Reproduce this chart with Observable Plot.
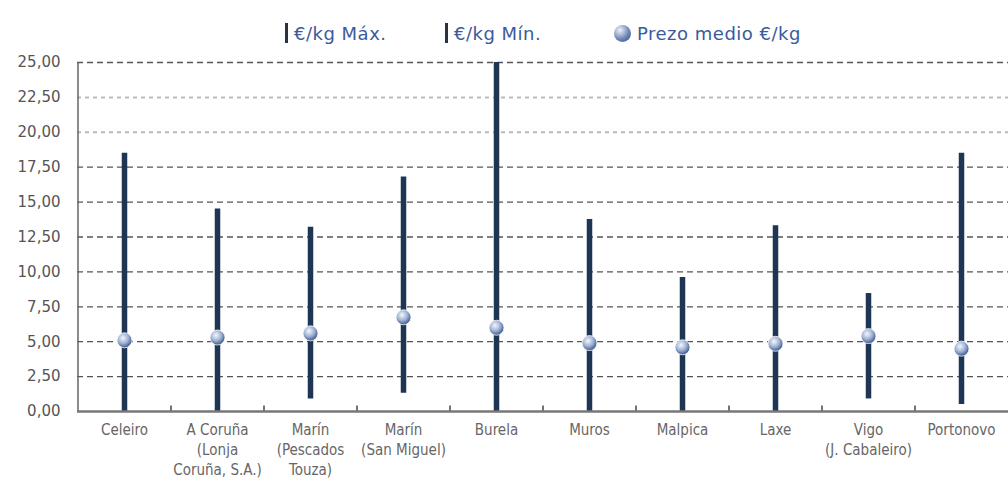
<!DOCTYPE html>
<html><head><meta charset="utf-8">
<script src="https://cdn.jsdelivr.net/npm/d3@7"></script>
<script src="https://cdn.jsdelivr.net/npm/@observablehq/plot@0.6"></script>
<style>
body{margin:0;background:#fff;font-family:"DejaVu Sans",Arial,sans-serif;}
#legend{height:48px;position:relative;font-size:18px;color:#3a5a9c;letter-spacing:0.5px;}
#legend .it{position:absolute;top:22px;display:flex;align-items:center;gap:6px;height:22px;}
#legend .bar{width:3px;height:20px;background:#2a3340;}
#legend .dot{width:17px;height:17px;border-radius:50%;background:radial-gradient(circle at 35% 30%,#eef2fa,#6f86b6 55%,#2e4677);}
</style></head>
<body>
<div id="legend">
  <div class="it" style="left:285px"><div class="bar"></div><span>€/kg Máx.</span></div>
  <div class="it" style="left:445px"><div class="bar"></div><span>€/kg Mín.</span></div>
  <div class="it" style="left:614px"><div class="dot"></div><span>Prezo medio €/kg</span></div>
</div>
<div id="chart"></div>
<script>
const ports = ["Celeiro","A Coruña\n(Lonja\nCoruña, S.A.)","Marín\n(Pescados\nTouza)","Marín\n(San Miguel)","Burela","Muros","Malpica","Laxe","Vigo\n(J. Cabaleiro)","Portonovo"];
const maxPrice = [18.5,14.5,13.2,16.8,25.0,13.75,9.6,13.3,8.45,18.5];
const minPrice = [0,0,0.9,1.3,0,0,0,0,0.9,0.5];
const meanPrice = [5.1,5.3,5.6,6.75,6.0,4.9,4.6,4.85,5.4,4.5];
const yTicks = [0,2.5,5,7.5,10,12.5,15,17.5,20,22.5,25];
const lightTicks = [20,22.5];

const data = ports.map((p,i)=>({port:p,max:maxPrice[i],min:minPrice[i],mean:meanPrice[i]}));
const fmt = d => d.toFixed(2).replace(".",",");

const chart = Plot.plot({
  width:1008,height:433,
  marginLeft:77,marginRight:0,marginTop:14,marginBottom:70,
  style:{fontFamily:"'DejaVu Sans',Arial,sans-serif",fontSize:"12px",color:"#555",background:"transparent"},
  x:{type:"point",domain:ports,padding:0.5,label:null},
  y:{domain:[0,25],ticks:yTicks,label:null},
  marks:[
    Plot.ruleY(yTicks.filter(t=>t>0 && !lightTicks.includes(t)),{stroke:"#555",strokeDasharray:"6,4",strokeWidth:1.3}),
    Plot.ruleY(lightTicks,{stroke:"#bbb",strokeDasharray:"4,4",strokeWidth:2}),
    Plot.axisY({ticks:yTicks,tickFormat:fmt,tickSize:0,tickPadding:17,fontSize:15,fill:"#555"}),
    Plot.axisX({tickSize:0,tickPadding:9,lineHeight:1.35,fontSize:15,fontFamily:"'DejaVu Sans Condensed','DejaVu Sans',sans-serif",fill:"#666"}),
    Plot.ruleX([ports[0]],{x:d=>d,dx:-46.5,y1:0,y2:25,stroke:"#666",strokeWidth:1.5}),
    Plot.ruleX(ports.slice(1),{x:d=>d,dx:-46.5,y1:0,y2:0.4,stroke:"#444",strokeWidth:1.5}),
    Plot.ruleX(data,{x:"port",y1:"min",y2:"max",stroke:"#1e3554",strokeWidth:5.5}),
    Plot.ruleY([0],{stroke:"#777",strokeWidth:2.5}),
    Plot.dot(data,{x:"port",y:"mean",r:7.5,fill:"url(#sph)",stroke:"#ffffff",strokeWidth:0.8})
  ]
});
const svg = d3.select(chart);
const defs = svg.insert("defs",":first-child");
const g = defs.append("radialGradient").attr("id","sph").attr("cx","40%").attr("cy","35%").attr("r","65%");
g.append("stop").attr("offset","0%").attr("stop-color","#f4f7fc");
g.append("stop").attr("offset","55%").attr("stop-color","#9fb2d4");
g.append("stop").attr("offset","100%").attr("stop-color","#3d5a8e");
document.getElementById("chart").appendChild(chart);
</script>
</body></html>
